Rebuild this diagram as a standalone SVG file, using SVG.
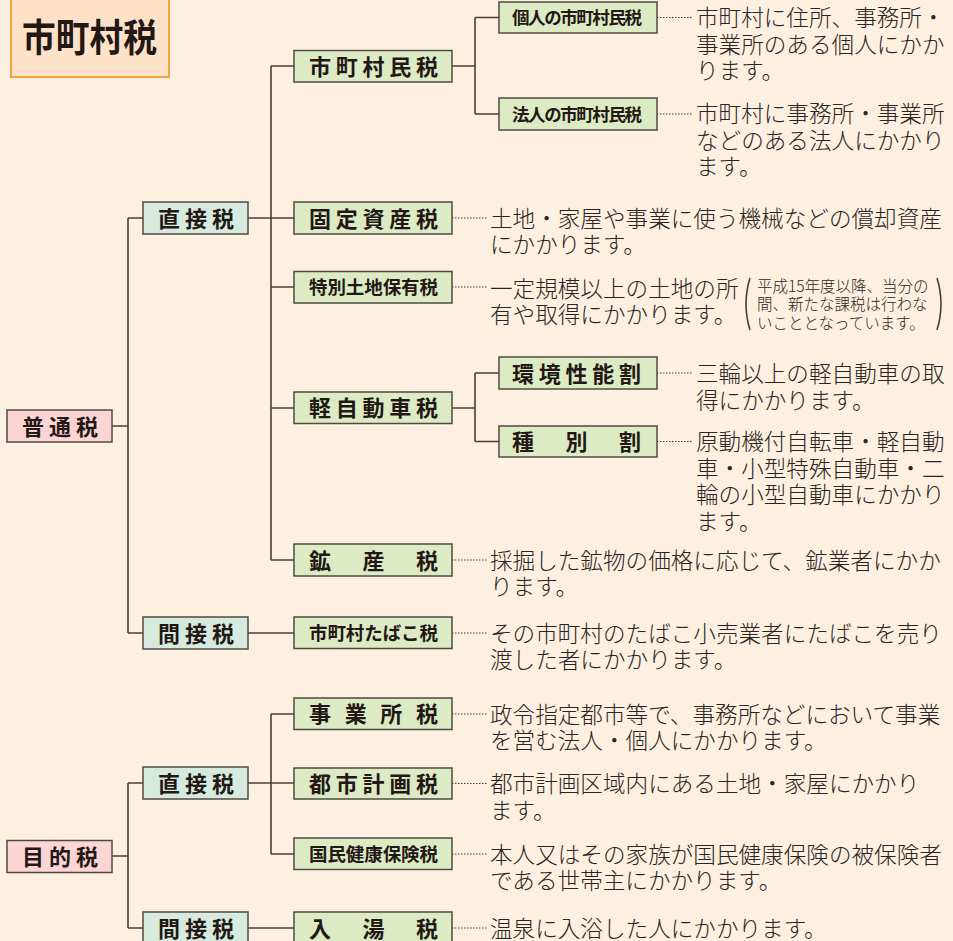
<svg xmlns="http://www.w3.org/2000/svg" width="953" height="941" viewBox="0 0 953 941">
<style>
.bg{fill:#fef0e1}
.box{stroke:#4f4a46;stroke-width:1.5}
.l1{fill:#fbd4d3}
.l2{fill:#d6ebdd}
.l3{fill:#dcebc4}
.lbl{font-family:"Noto Sans CJK JP","Noto Sans CJK SC",sans-serif;font-weight:700;fill:#231815}
.desc{font-family:"Noto Sans CJK JP","Noto Sans CJK SC",sans-serif;font-weight:300;font-size:22.6px;fill:#2a2523}
.note{font-family:"Noto Sans CJK JP","Noto Sans CJK SC",sans-serif;font-weight:300;font-size:15.5px;fill:#2a2523}
.ln{fill:none;stroke:#463f3b;stroke-width:1.6}
.dot{fill:none;stroke:#463f3b;stroke-width:1.2;stroke-dasharray:1.5 1.5}
</style>
<rect class="bg" x="0" y="0" width="953" height="941"/>

<g id="title">
<rect x="11" y="-3" width="158" height="80" fill="#fde2c8" stroke="#f4a23f" stroke-width="2"/>
<text class="lbl" x="22" y="51" font-size="38" textLength="135" lengthAdjust="spacingAndGlyphs">市町村税</text>
</g>

<g id="connectors">
<path class="ln" d="M112 426H128M128 218V633M128 218H143M128 633H143"/>
<path class="ln" d="M248 218H294M271 66V560M271 66H294M271 287H294M271 408H294M271 560H294"/>
<path class="ln" d="M248 633H294"/>
<path class="ln" d="M452 66H475M475 17.5V114M475 17.5H499M475 114H499"/>
<path class="ln" d="M452 408H475M475 373V441.5M475 373H499M475 441.5H499"/>
<path class="ln" d="M112 856H128M128 783V928M128 783H143M128 928H143"/>
<path class="ln" d="M248 783H294M271 714V854M271 714H294M271 854H294"/>
<path class="ln" d="M248 928H294"/>
<path class="dot" d="M657 17.5H693M657 114H693M452 218H487M452 287H487M657 373H693M657 441.5H693M452 560H487M452 633H487M452 714H487M452 783.5H487M452 854H487M452 928H487"/>
</g>

<g id="futsuzei">
<rect class="box l1" x="7" y="410" width="105" height="32"/>
<text class="lbl" x="22" y="434.5" font-size="22" textLength="76">普通税</text>
</g>
<g id="mokutekizei">
<rect class="box l1" x="7" y="840.5" width="105" height="32"/>
<text class="lbl" x="22" y="865" font-size="22" textLength="76">目的税</text>
</g>

<g id="chokusetsu1">
<rect class="box l2" x="143" y="202" width="105" height="32"/>
<text class="lbl" x="158" y="226.5" font-size="22" textLength="76">直接税</text>
</g>
<g id="kansetsu1">
<rect class="box l2" x="143" y="617" width="105" height="32"/>
<text class="lbl" x="158" y="641.5" font-size="22" textLength="76">間接税</text>
</g>
<g id="chokusetsu2">
<rect class="box l2" x="143" y="767" width="105" height="32"/>
<text class="lbl" x="158" y="791.5" font-size="22" textLength="76">直接税</text>
</g>
<g id="kansetsu2">
<rect class="box l2" x="143" y="912" width="105" height="32"/>
<text class="lbl" x="158" y="936.5" font-size="22" textLength="76">間接税</text>
</g>

<g id="shichosonminzei">
<rect class="box l3" x="294" y="50.5" width="158" height="31.5"/>
<text class="lbl" x="309" y="74.5" font-size="22" textLength="129">市町村民税</text>
</g>
<g id="kojin">
<rect class="box l3" x="499" y="2" width="158" height="31"/>
<text class="lbl" x="512" y="24" font-size="17.5" textLength="130">個人の市町村民税</text>
</g>
<g id="hojin">
<rect class="box l3" x="499" y="98" width="158" height="32"/>
<text class="lbl" x="512" y="120.5" font-size="17.5" textLength="130">法人の市町村民税</text>
</g>
<g id="kotei">
<rect class="box l3" x="294" y="202" width="158" height="32"/>
<text class="lbl" x="309" y="226.5" font-size="22" textLength="129">固定資産税</text>
</g>
<g id="tokubetsu">
<rect class="box l3" x="294" y="271.5" width="158" height="31.5"/>
<text class="lbl" x="309" y="294" font-size="18.5" textLength="129">特別土地保有税</text>
</g>
<g id="keijidosha">
<rect class="box l3" x="294" y="392" width="158" height="31.5"/>
<text class="lbl" x="309" y="416" font-size="22" textLength="129">軽自動車税</text>
</g>
<g id="kankyo">
<rect class="box l3" x="499" y="357" width="158" height="32"/>
<text class="lbl" x="512" y="381.5" font-size="22" textLength="129">環境性能割</text>
</g>
<g id="shubetsu">
<rect class="box l3" x="499" y="426" width="158" height="31"/>
<text class="lbl" x="512" y="450" font-size="22" textLength="129">種別割</text>
</g>
<g id="kosan">
<rect class="box l3" x="294" y="544" width="158" height="32"/>
<text class="lbl" x="309" y="568.5" font-size="22" textLength="129">鉱産税</text>
</g>
<g id="tabako">
<rect class="box l3" x="294" y="617" width="158" height="31.5"/>
<text class="lbl" x="309" y="640" font-size="18.5" textLength="129">市町村たばこ税</text>
</g>
<g id="jigyosho">
<rect class="box l3" x="294" y="698" width="158" height="31.5"/>
<text class="lbl" x="309" y="722" font-size="22" textLength="129">事業所税</text>
</g>
<g id="toshikeikaku">
<rect class="box l3" x="294" y="768" width="158" height="31"/>
<text class="lbl" x="309" y="792" font-size="22" textLength="129">都市計画税</text>
</g>
<g id="kokuho">
<rect class="box l3" x="294" y="838" width="158" height="31.5"/>
<text class="lbl" x="309" y="861" font-size="18.5" textLength="129">国民健康保険税</text>
</g>
<g id="nyuto">
<rect class="box l3" x="294" y="912" width="158" height="32"/>
<text class="lbl" x="309" y="936.5" font-size="22" textLength="129">入湯税</text>
</g>

<g id="descriptions">
<text class="desc" x="696" y="26"><tspan x="696">市町村に住所、事務所・</tspan><tspan x="696" dy="26.5">事業所のある個人にかか</tspan><tspan x="696" dy="26.5">ります。</tspan></text>
<text class="desc" x="696" y="122"><tspan x="696">市町村に事務所・事業所</tspan><tspan x="696" dy="26.5">などのある法人にかかり</tspan><tspan x="696" dy="26.5">ます。</tspan></text>
<text class="desc" x="490" y="226.5"><tspan x="490">土地・家屋や事業に使う機械などの償却資産</tspan><tspan x="490" dy="26.5">にかかります。</tspan></text>
<text class="desc" x="490" y="296.5"><tspan x="490">一定規模以上の土地の所</tspan><tspan x="490" dy="26.5">有や取得にかかります。</tspan></text>
<text class="note" x="757" y="291.5"><tspan x="757">平成15年度以降、当分の</tspan><tspan x="757" dy="18.5">間、新たな課税は行わな</tspan><tspan x="757" dy="18.5">いこととなっています。</tspan></text>
<path class="ln" stroke-width="1.2" d="M750 278Q742 304 750 330M937 278Q945 304 937 330"/>
<text class="desc" x="696" y="382"><tspan x="696">三輪以上の軽自動車の取</tspan><tspan x="696" dy="26.5">得にかかります。</tspan></text>
<text class="desc" x="696" y="450"><tspan x="696">原動機付自転車・軽自動</tspan><tspan x="696" dy="26.5">車・小型特殊自動車・二</tspan><tspan x="696" dy="26.5">輪の小型自動車にかかり</tspan><tspan x="696" dy="26.5">ます。</tspan></text>
<text class="desc" x="490" y="568.5"><tspan x="490">採掘した鉱物の価格に応じて、鉱業者にかか</tspan><tspan x="490" dy="26.5">ります。</tspan></text>
<text class="desc" x="490" y="641.5"><tspan x="490">その市町村のたばこ小売業者にたばこを売り</tspan><tspan x="490" dy="26.5">渡した者にかかります。</tspan></text>
<text class="desc" x="490" y="722.5"><tspan x="490">政令指定都市等で、事務所などにおいて事業</tspan><tspan x="490" dy="26.5">を営む法人・個人にかかります。</tspan></text>
<text class="desc" x="490" y="792"><tspan x="490">都市計画区域内にある土地・家屋にかかり</tspan><tspan x="490" dy="26.5">ます。</tspan></text>
<text class="desc" x="490" y="862.5"><tspan x="490">本人又はその家族が国民健康保険の被保険者</tspan><tspan x="490" dy="26.5">である世帯主にかかります。</tspan></text>
<text class="desc" x="490" y="936.5">温泉に入浴した人にかかります。</text>
</g>
</svg>
